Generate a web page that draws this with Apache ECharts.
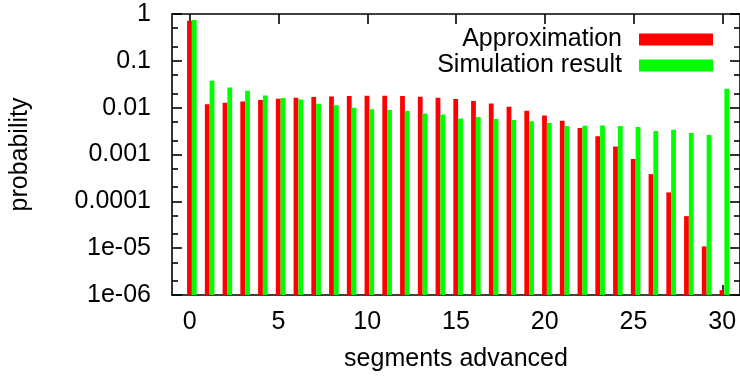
<!DOCTYPE html>
<html>
<head>
<meta charset="utf-8">
<script src="https://cdn.jsdelivr.net/npm/echarts@6/dist/echarts.min.js"></script>
<style>
  html, body { margin: 0; padding: 0; background: #fff; }
  #chart { width: 740px; height: 377px; }
</style>
</head>
<body>
<div id="chart"></div>
<script>
// Segments advanced per step
const segments = [0, 1, 2, 3, 4, 5, 6, 7, 8, 9, 10, 11, 12, 13, 14, 15,
                  16, 17, 18, 19, 20, 21, 22, 23, 24, 25, 26, 27, 28, 29, 30];

// Probability from the analytical approximation
const approximation = [0.72, 0.0118, 0.0127, 0.0136, 0.0145, 0.0155, 0.0163, 0.0168,
                       0.0174, 0.0177, 0.018, 0.018, 0.0177, 0.0171, 0.0163, 0.0153,
                       0.0138, 0.0123, 0.0105, 0.0086, 0.00684, 0.00525, 0.00367, 0.00244,
                       0.00149, 0.000798, 0.000381, 0.000155, 4.83e-5, 1.09e-5, 1.27e-6];

// Probability measured in the simulation
const simulation = [0.74, 0.0376, 0.0271, 0.023, 0.0183, 0.016, 0.015, 0.0121,
                    0.0112, 0.00995, 0.0093, 0.0089, 0.00846, 0.00755, 0.00718, 0.0059,
                    0.0063, 0.0057, 0.00543, 0.0051, 0.00469, 0.00405, 0.0041, 0.00417,
                    0.00405, 0.00385, 0.00316, 0.00337, 0.00287, 0.0026, 0.0254];

const xTickValues = [0, 5, 10, 15, 20, 25, 30];
const yTickLabels = ['1e-06', '1e-05', '0.0001', '0.001', '0.01', '0.1', '1'];

const FONT = 'Liberation Sans';
const RED = '#ff0000';
const GREEN = '#00ff00';
const Y_MIN = 1e-6, Y_MAX = 1;
const X_MIN = -1, X_MAX = 31;
const BOX = 0.27;          // box width in x units
const RED_SHIFT = -0.15;   // left edge of the red box relative to its x

// decade exponents for the frame ticks, and 2x / 5x minor marks
const majorExp = [-6, -5, -4, -3, -2, -1, 0];
const minorExp = [];
for (let k = -6; k < 0; k++) {
  minorExp.push(k + Math.log10(2), k + Math.log10(5));
}

const lineStyle = { color: '#000', width: 1.6 };

function boxSeries(name, values, leftEdge, color) {
  return {
    name: name,
    type: 'custom',
    xAxisIndex: 0,
    yAxisIndex: 0,
    itemStyle: { color: color },
    data: segments.map((s, i) => [s, values[i]]),
    renderItem: function (params, api) {
      const x = api.value(0);
      const v = api.value(1);
      const topLeft = api.coord([x + leftEdge, v]);
      const bottomRight = api.coord([x + leftEdge + BOX, Y_MIN]);
      return {
        type: 'rect',
        shape: {
          x: topLeft[0],
          y: topLeft[1],
          width: bottomRight[0] - topLeft[0],
          height: bottomRight[1] - topLeft[1]
        },
        style: { fill: color }
      };
    }
  };
}

const chart = echarts.init(document.getElementById('chart'), null, { renderer: 'canvas' });

chart.setOption({
  animation: false,
  backgroundColor: '#fff',
  textStyle: { fontFamily: FONT, color: '#000' },
  grid: { left: 167, top: 14, width: 576, height: 281 },
  legend: {
    orient: 'vertical',
    align: 'right',
    right: 22,
    top: 22,
    itemWidth: 74,
    itemHeight: 12,
    itemGap: 1,
    selectedMode: false,
    textStyle: { fontFamily: FONT, fontSize: 25, color: '#000', lineHeight: 25, padding: [0, 12, 0, 0] },
    data: [
      { name: 'Approximation', icon: 'rect' },
      { name: 'Simulation result', icon: 'rect' }
    ]
  },
  xAxis: [
    {
      type: 'value',
      position: 'bottom',
      min: X_MIN,
      max: X_MAX,
      name: 'segments advanced',
      nameLocation: 'middle',
      nameGap: 52,
      nameTextStyle: { fontFamily: FONT, fontSize: 25, color: '#000' },
      axisLine: { show: true, onZero: false, lineStyle: lineStyle },
      axisTick: { show: true, inside: true, length: 10, customValues: xTickValues, lineStyle: lineStyle },
      axisLabel: { customValues: xTickValues, fontFamily: FONT, fontSize: 25, color: '#000', margin: 15 },
      splitLine: { show: false }
    },
    {
      type: 'value',
      position: 'top',
      min: X_MIN,
      max: X_MAX,
      axisLine: { show: true, onZero: false, lineStyle: lineStyle },
      axisTick: { show: true, inside: true, length: 10, customValues: xTickValues, lineStyle: lineStyle },
      axisLabel: { show: false },
      splitLine: { show: false }
    }
  ],
  yAxis: [
    {
      type: 'log',
      logBase: 10,
      position: 'left',
      min: Y_MIN,
      max: Y_MAX,
      interval: 1,
      splitNumber: 6,
      name: 'probability',
      nameLocation: 'middle',
      nameGap: 139,
      nameTextStyle: { fontFamily: FONT, fontSize: 25, color: '#000' },
      axisLine: { show: true, onZero: false, lineStyle: lineStyle },
      axisTick: { show: true, inside: true, length: 10, lineStyle: lineStyle },
      axisLabel: {
        fontFamily: FONT, fontSize: 25, color: '#000', margin: 21,
        formatter: function (v) {
          const e = Math.round(Math.log10(v));
          return yTickLabels[e + 6];
        }
      },
      splitLine: { show: false }
    },
    {
      // minor marks on the left frame, in decade units
      type: 'value',
      position: 'left',
      min: -6,
      max: 0,
      axisLine: { show: false, onZero: false },
      axisTick: { show: true, inside: true, length: 6, customValues: minorExp, lineStyle: lineStyle },
      axisLabel: { show: false },
      splitLine: { show: false }
    },
    {
      // right frame with decade marks
      type: 'value',
      position: 'right',
      min: -6,
      max: 0,
      axisLine: { show: true, onZero: false, lineStyle: lineStyle },
      axisTick: { show: true, inside: true, length: 10, customValues: majorExp, lineStyle: lineStyle },
      axisLabel: { show: false },
      splitLine: { show: false }
    },
    {
      type: 'value',
      position: 'right',
      min: -6,
      max: 0,
      axisLine: { show: false, onZero: false },
      axisTick: { show: true, inside: true, length: 6, customValues: minorExp, lineStyle: lineStyle },
      axisLabel: { show: false },
      splitLine: { show: false }
    }
  ],
  series: [
    boxSeries('Approximation', approximation, RED_SHIFT, RED),
    boxSeries('Simulation result', simulation, RED_SHIFT + BOX, GREEN)
  ]
});
</script>
</body>
</html>
